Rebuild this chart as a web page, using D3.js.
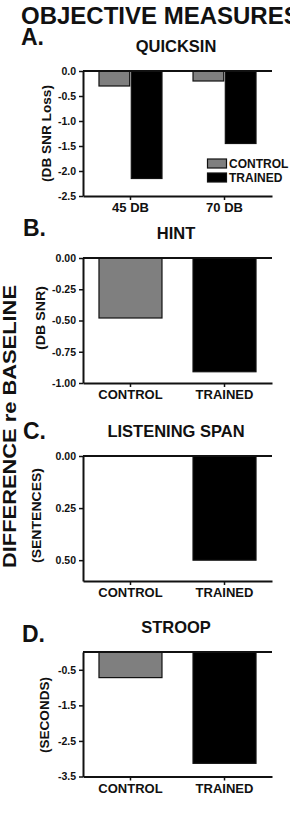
<!DOCTYPE html>
<html>
<head>
<meta charset="utf-8">
<script src="https://cdn.jsdelivr.net/npm/d3@7"></script>
<style>
  html, body { margin: 0; padding: 0; background: #fff; overflow: hidden; }
  svg { display: block; }
  text { font-family: "Liberation Sans", Arial, Helvetica, sans-serif; font-weight: bold; fill: #111; }
</style>
</head>
<body>
<script>
// ---------- DATA ----------
const quicksinCategories = ["45 DB", "70 DB"];
const seriesNames = ["CONTROL", "TRAINED"];
const quicksinControl = [-0.30, -0.20];
const quicksinTrained = [-2.15, -1.45];
const quicksinTicks = [0, -0.5, -1.0, -1.5, -2.0, -2.5];
const quicksinTickLabels = ["0.0", "-0.5", "-1.0", "-1.5", "-2.0", "-2.5"];

const groupCategories = ["CONTROL", "TRAINED"];

const hintValues = [-0.48, -0.91];
const hintTicks = [0, -0.25, -0.5, -0.75, -1.0];
const hintTickLabels = ["0.00", "-0.25", "-0.50", "-0.75", "-1.00"];

const spanValues = [0.00, 0.50];
const spanTicks = [0, 0.25, 0.5];
const spanTickLabels = ["0.00", "0.25", "0.50"];

const stroopValues = [-0.72, -3.13];
const stroopTicks = [-0.5, -1.5, -2.5, -3.5];
const stroopTickLabels = ["-0.5", "-1.5", "-2.5", "-3.5"];

// ---------- LAYOUT ----------
const W = 290, H = 821;
const colors = { CONTROL: "#7f7f7f", TRAINED: "#000000" };
const svg = d3.select("body").append("svg").attr("width", W).attr("height", H);

const xLeft = 83, xRight = 272;
const x = d3.scaleBand().domain(groupCategories).range([xLeft, xRight]).paddingInner(0.33).paddingOuter(0.17);
const xq = d3.scaleBand().domain(quicksinCategories).range([xLeft, xRight]).paddingInner(0.33).paddingOuter(0.17);
const xSub = d3.scaleBand().domain(seriesNames).range([0, xq.bandwidth()]).paddingInner(0.05);

// Main title
svg.append("text").attr("x", 21).attr("y", 24).attr("font-size", 24).text("OBJECTIVE MEASURES");

// Big rotated label
svg.append("text")
  .attr("transform", "translate(15.5,426.5) rotate(-90)")
  .attr("text-anchor", "middle")
  .attr("font-size", 18)
  .attr("textLength", 283).attr("lengthAdjust", "spacingAndGlyphs")
  .text("DIFFERENCE re BASELINE");

function panel(opts) {
  const g = svg.append("g");
  const y = d3.scaleLinear().domain(opts.domain).range([opts.top, opts.bottom]);
  // letter + title
  g.append("text").attr("x", opts.letterX).attr("y", opts.letterY).attr("font-size", 23).text(opts.letter);
  g.append("text").attr("x", 176).attr("y", opts.titleY).attr("text-anchor", "middle").attr("font-size", 16.5).text(opts.title);
  // y label
  g.append("text")
    .attr("transform", `translate(${opts.ylabX},${opts.ylabY}) rotate(-90)`)
    .attr("text-anchor", "middle").attr("font-size", 12.5)
    .attr("textLength", opts.ylabLen).attr("lengthAdjust", "spacingAndGlyphs")
    .text(opts.ylabel);
  return { g, y };
}

function styleAxis(ax) {
  ax.select(".domain").attr("stroke", "#111").attr("stroke-width", 2);
  ax.selectAll(".tick line").attr("stroke", "#111").attr("stroke-width", 1.5);
  ax.selectAll(".tick text").attr("fill", "#111")
    .style("font-family", '"Liberation Sans", Arial, sans-serif').style("font-weight", "bold");
}

function axes(g, y, xs, ticks, labels, xFont) {
  const ay = g.append("g").attr("transform", `translate(${xLeft},0)`)
    .call(d3.axisLeft(y).tickValues(ticks).tickFormat((d, i) => labels[i]).tickSize(4).tickPadding(3).tickSizeOuter(0));
  styleAxis(ay);
  ay.selectAll(".tick text").attr("font-size", 10.5);
  const ax = g.append("g").attr("transform", `translate(0,${y.range()[1]})`)
    .call(d3.axisBottom(xs).tickSize(4).tickPadding(3).tickSizeOuter(0));
  styleAxis(ax);
  ax.selectAll(".tick text").attr("font-size", xFont).attr("dy", "0.71em");
  // zero line
  g.append("line").attr("x1", xLeft).attr("x2", xRight).attr("y1", y(0)).attr("y2", y(0))
    .attr("stroke", "#111").attr("stroke-width", 2);
}

// ---------- PANEL A ----------
{
  const { g, y } = panel({ domain: [0, -2.5], top: 71, bottom: 196, letter: "A.", letterX: 21, letterY: 45,
    title: "QUICKSIN", titleY: 52, ylabel: "(DB SNR Loss)", ylabX: 50.5, ylabY: 133.5, ylabLen: 97 });
  const rows = quicksinCategories.map((c, i) => ({ c, CONTROL: quicksinControl[i], TRAINED: quicksinTrained[i] }));
  rows.forEach(r => {
    seriesNames.forEach(s => {
      const v = r[s];
      g.append("rect")
        .attr("x", xq(r.c) + xSub(s)).attr("width", xSub.bandwidth())
        .attr("y", y(Math.max(0, v))).attr("height", Math.abs(y(v) - y(0)))
        .attr("fill", colors[s]).attr("stroke", "#111").attr("stroke-width", 1.2);
    });
  });
  axes(g, y, xq, quicksinTicks, quicksinTickLabels, 13);
  // legend
  const lg = g.append("g");
  seriesNames.forEach((s, i) => {
    lg.append("rect").attr("x", 207.5).attr("y", 159 + i * 14).attr("width", 19).attr("height", 9)
      .attr("fill", colors[s]).attr("stroke", "#111").attr("stroke-width", 1.2);
    lg.append("text").attr("x", 229).attr("y", 168 + i * 14).attr("font-size", 12).text(s);
  });
}

function simplePanel(cfg, values, ticks, labels) {
  const { g, y } = panel(cfg);
  groupCategories.forEach((c, i) => {
    const v = values[i];
    g.append("rect")
      .attr("x", x(c)).attr("width", x.bandwidth())
      .attr("y", Math.min(y(v), y(0))).attr("height", Math.abs(y(v) - y(0)))
      .attr("fill", colors[c]).attr("stroke", "#111").attr("stroke-width", 1.2);
  });
  axes(g, y, x, ticks, labels, 13);
}

// ---------- PANEL B ----------
simplePanel({ domain: [0, -1], top: 258, bottom: 383, letter: "B.", letterX: 23, letterY: 236,
  title: "HINT", titleY: 239, ylabel: "(DB SNR)", ylabX: 44.5, ylabY: 318, ylabLen: 64 },
  hintValues, hintTicks, hintTickLabels);

// ---------- PANEL C ----------
simplePanel({ domain: [0, 0.6], top: 456, bottom: 581, letter: "C.", letterX: 23, letterY: 439,
  title: "LISTENING SPAN", titleY: 437, ylabel: "(SENTENCES)", ylabX: 40.5, ylabY: 515.5, ylabLen: 95 },
  spanValues, spanTicks, spanTickLabels);

// ---------- PANEL D ----------
simplePanel({ domain: [0, -3.5], top: 652, bottom: 776.5, letter: "D.", letterX: 22, letterY: 642,
  title: "STROOP", titleY: 633, ylabel: "(SECONDS)", ylabX: 49, ylabY: 715, ylabLen: 76 },
  stroopValues, stroopTicks, stroopTickLabels);
</script>
</body>
</html>
